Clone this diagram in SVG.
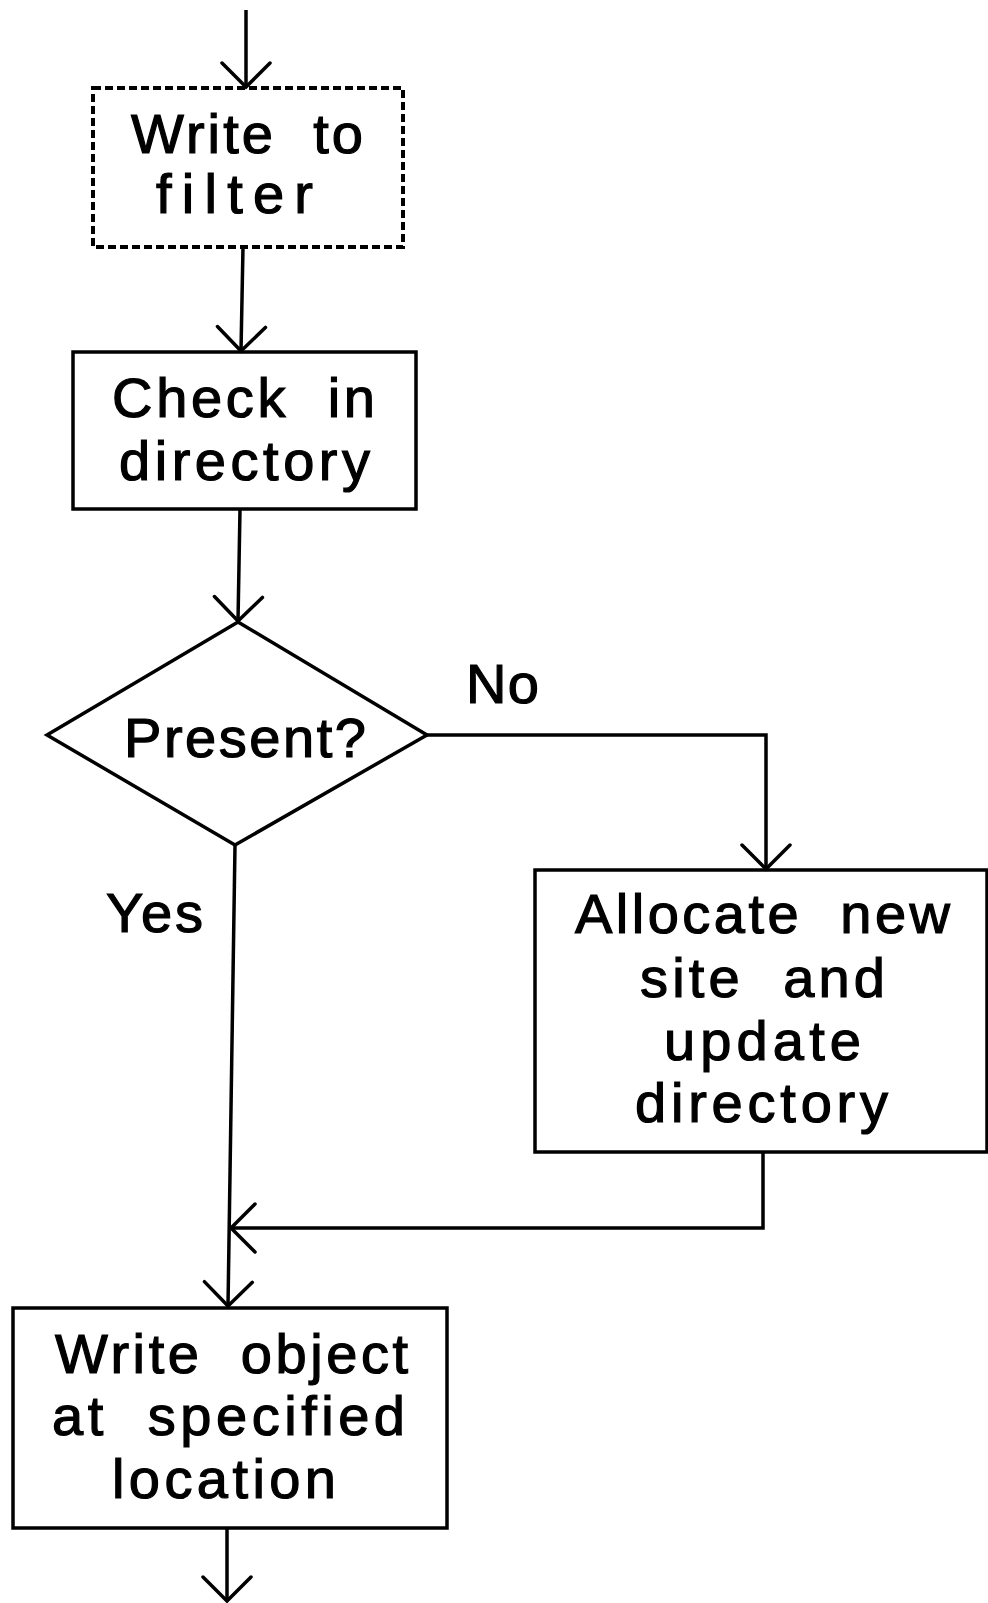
<svg xmlns="http://www.w3.org/2000/svg" width="988" height="1603" viewBox="0 0 988 1603">
  <defs>
    <style>
      .box { fill: none; stroke: #000; stroke-width: 3.5; }
      .dashed { stroke-dasharray: 8 4; stroke-width: 4; }
      .line { fill: none; stroke: #000; stroke-width: 3.5; stroke-linejoin: miter; }
      .label { font-family: "Liberation Sans", Arial, sans-serif; font-size: 56px; fill: #000; stroke: #000; stroke-width: 1.2; white-space: pre; }
    </style>
    <marker id="arrow" markerUnits="userSpaceOnUse" viewBox="-30 -30 40 60" refX="0" refY="0" markerWidth="40" markerHeight="60" orient="auto" overflow="visible">
      <path d="M-24,-24 L0,0 L-24,24" fill="none" stroke="#000" stroke-width="3.5" stroke-linecap="round"/>
    </marker>
  </defs>
  <rect width="988" height="1603" fill="#fff"/>

  <g id="connectors">
    <path class="line" d="M246,10 L246,87" marker-end="url(#arrow)"/>
    <path class="line" d="M243,247 L241,351" marker-end="url(#arrow)"/>
    <path class="line" d="M240,509 L238,621" marker-end="url(#arrow)"/>
    <path class="line" d="M427,735 L766,735 L766,869" marker-end="url(#arrow)"/>
    <path class="line" d="M235,845 L228,1306" marker-end="url(#arrow)"/>
    <path class="line" d="M763,1152 L763,1228 L231,1228" marker-end="url(#arrow)"/>
    <path class="line" d="M227,1528 L227,1601" marker-end="url(#arrow)"/>
  </g>

  <g id="write-to-filter">
    <rect class="box dashed" x="93" y="88" width="310" height="159"/>
    <text class="label"><tspan x="131" y="153" textLength="232" lengthAdjust="spacing">Write  to</tspan><tspan x="156" y="213" textLength="157" lengthAdjust="spacing">filter</tspan></text>
  </g>

  <g id="check-in-directory">
    <rect class="box" x="73" y="352" width="343" height="157"/>
    <text class="label"><tspan x="112" y="417" textLength="263" lengthAdjust="spacing">Check  in</tspan><tspan x="119" y="480" textLength="251" lengthAdjust="spacing">directory</tspan></text>
  </g>

  <g id="present">
    <polygon class="box" points="238,622 427,735 235,845 47,735"/>
    <text class="label" x="124" y="757" textLength="242" lengthAdjust="spacing">Present?</text>
  </g>

  <g id="branch-labels">
    <text class="label" x="466" y="703" textLength="73" lengthAdjust="spacing">No</text>
    <text class="label" x="106" y="932" textLength="97" lengthAdjust="spacing">Yes</text>
  </g>

  <g id="allocate-new-site">
    <rect class="box" x="535" y="870" width="452" height="282"/>
    <text class="label"><tspan x="575" y="933" textLength="375" lengthAdjust="spacing">Allocate  new</tspan><tspan x="640" y="997" textLength="245" lengthAdjust="spacing">site  and</tspan><tspan x="664" y="1060" textLength="197" lengthAdjust="spacing">update</tspan><tspan x="635" y="1122" textLength="253" lengthAdjust="spacing">directory</tspan></text>
  </g>

  <g id="write-object">
    <rect class="box" x="13" y="1308" width="434" height="220"/>
    <text class="label"><tspan x="55" y="1373" textLength="353" lengthAdjust="spacing">Write  object</tspan><tspan x="52" y="1435" textLength="353" lengthAdjust="spacing">at  specified</tspan><tspan x="112" y="1498" textLength="224" lengthAdjust="spacing">location</tspan></text>
  </g>
</svg>
